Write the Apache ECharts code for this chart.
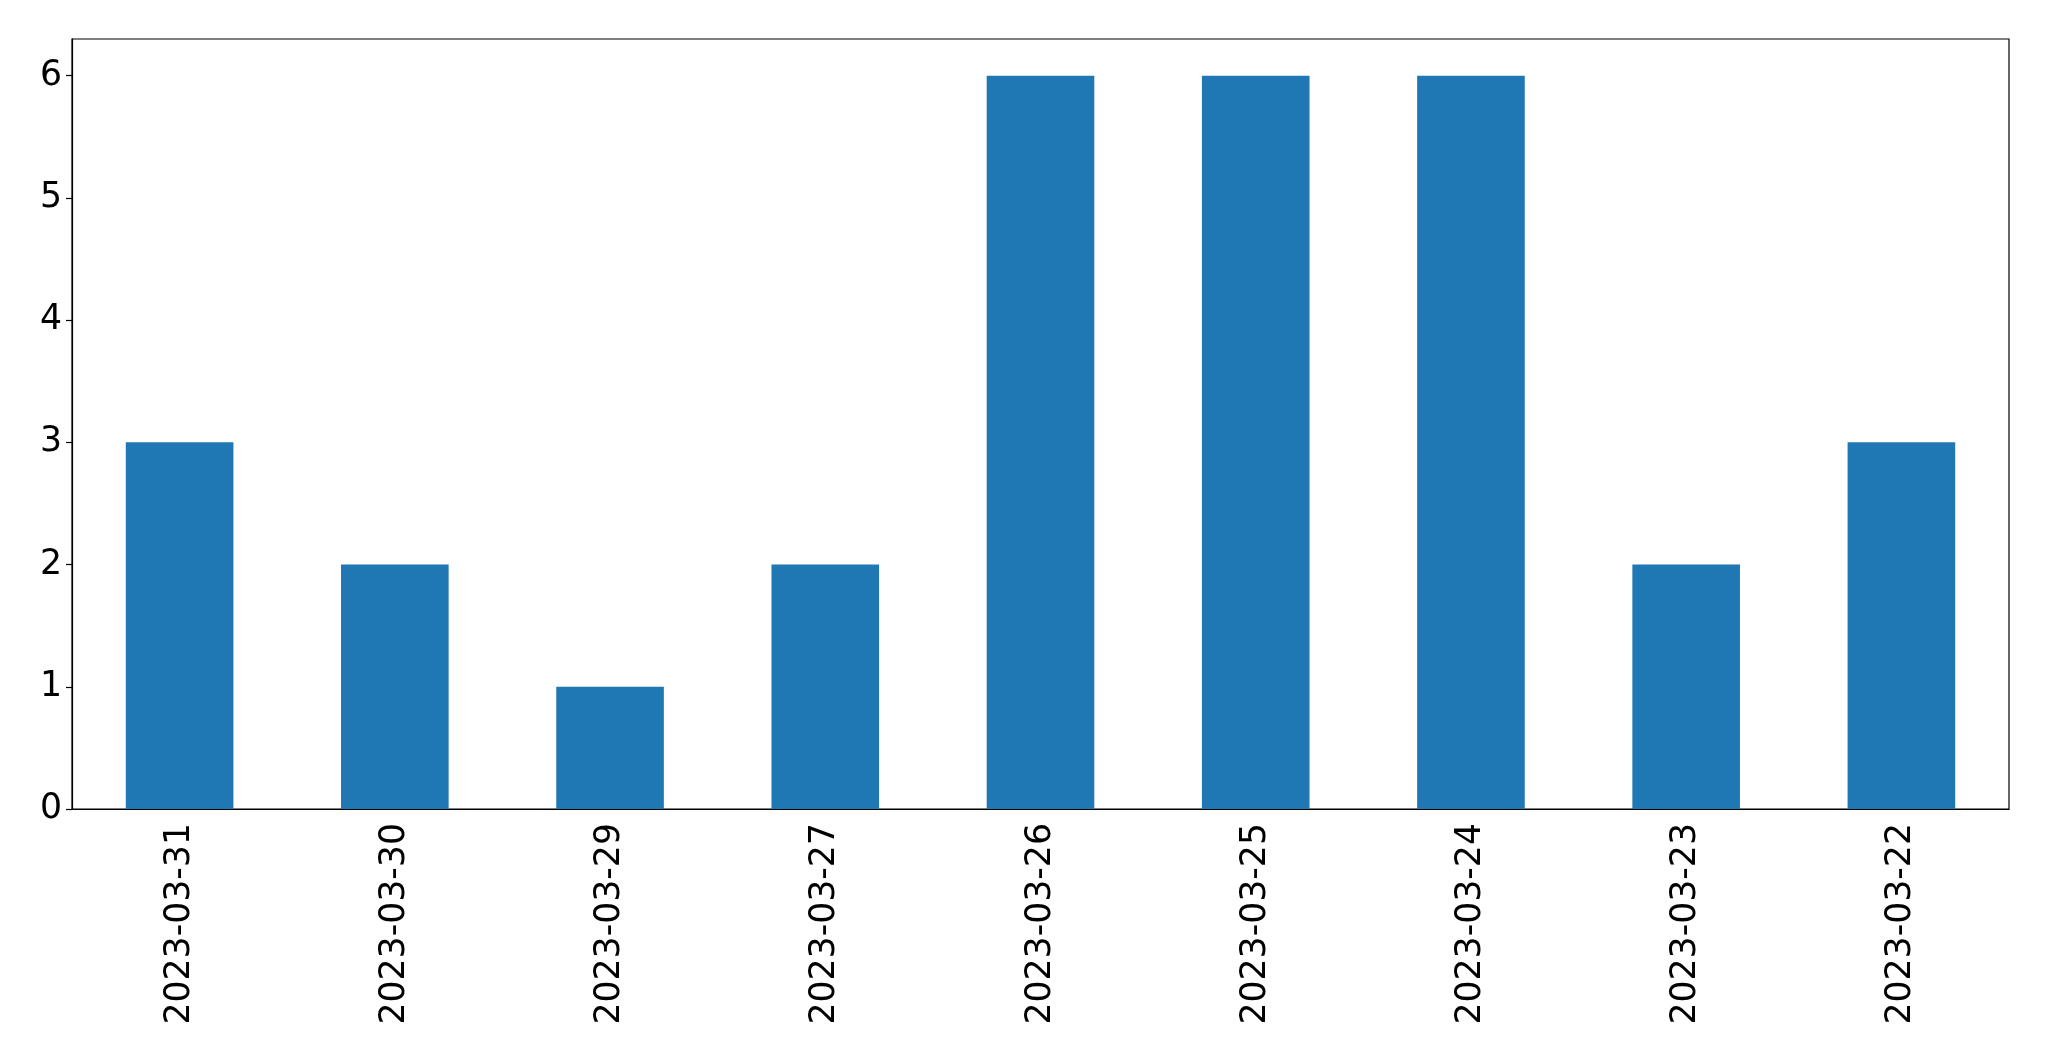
<!DOCTYPE html>
<html>
<head>
<meta charset="utf-8">
<script src="https://cdn.jsdelivr.net/npm/echarts@6/dist/echarts.min.js"></script>
<style>
  html, body { margin: 0; padding: 0; background: #fff; }
  #chart { width: 2049px; height: 1061px; }
</style>
</head>
<body>
<div id="chart"></div>
<script>
const dates = ['2023-03-31', '2023-03-30', '2023-03-29', '2023-03-27', '2023-03-26',
  '2023-03-25', '2023-03-24', '2023-03-23', '2023-03-22']
const counts = [3, 2, 1, 2, 6, 6, 6, 2, 3]
const yTicks = [0, 1, 2, 3, 4, 5, 6]

const BAR_COLOR = '#1f77b4'
const FONT = 'DejaVu Sans'

const chart = echarts.init(document.getElementById('chart'))
chart.setOption({
  animation: false,
  textStyle: { fontFamily: FONT },
  grid: {
    left: 72,
    right: 40,
    top: 39,
    bottom: 252,
    show: true,
    borderColor: '#000',
    borderWidth: 1.2,
    backgroundColor: 'transparent',
  },
  xAxis: {
    type: 'category',
    data: dates,
    axisLine: { lineStyle: { color: '#000', width: 1.2 } },
    axisTick: { alignWithLabel: true, length: 6, lineStyle: { color: '#000', width: 1.2 } },
    axisLabel: {
      rotate: 90,
      interval: 0,
      color: '#000',
      fontSize: 34.7,
      fontFamily: FONT,
      margin: 14,
    },
    splitLine: { show: false },
  },
  yAxis: {
    type: 'value',
    min: 0,
    max: 6.3,
    axisLine: { show: true, lineStyle: { color: '#000', width: 1.2 } },
    axisTick: { show: true, length: 6, customValues: yTicks, lineStyle: { color: '#000', width: 1.2 } },
    axisLabel: {
      color: '#000',
      fontSize: 34.7,
      fontFamily: FONT,
      margin: 10,
      customValues: yTicks,
    },
    splitLine: { show: false },
  },
  series: [
    {
      type: 'bar',
      data: counts,
      barWidth: '50%',
      itemStyle: { color: BAR_COLOR },
    },
  ],
})
</script>
</body>
</html>
